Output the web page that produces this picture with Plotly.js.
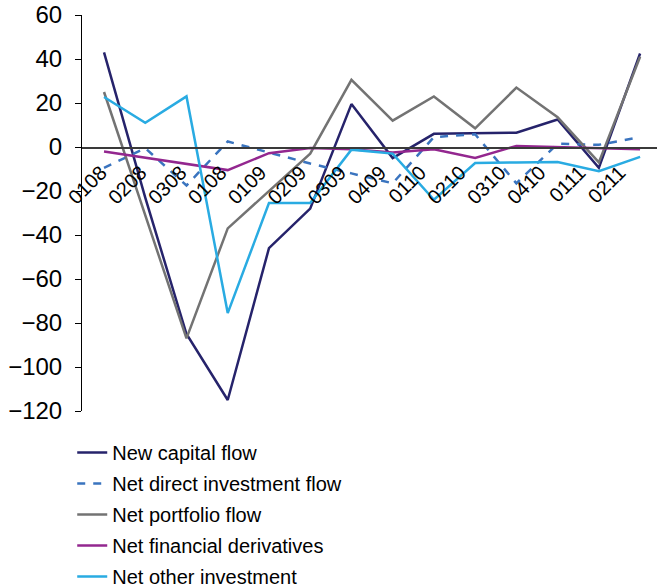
<!DOCTYPE html>
<html>
<head>
<meta charset="utf-8">
<script src="https://cdn.plot.ly/plotly-3.0.1.min.js"></script>
<style>
  html, body { margin: 0; padding: 0; background: #fff; }
  #chart { width: 657px; height: 587px; }
</style>
</head>
<body>
<div id="chart"></div>
<script>
// Quarter labels as printed in the original (note the repeated "0108")
const quarterLabels = ["0108", "0208", "0308", "0108", "0109", "0209", "0309", "0409", "0110", "0210", "0310", "0410", "0111", "0211"];
const positions = quarterLabels.map((_, i) => i);

const newCapitalFlow       = [43, -23, -85, -115, -46, -28, 19.5, -5, 6, 6.3, 6.5, 12.5, -9.5, 42.5];
const netDirectInvestment  = [-9.5, -0.5, -17.5, 2.5, -2.5, -7.5, -12, -16.5, 4.5, 5.8, -16.5, 1.5, 1, 4.5];
const netPortfolioFlow     = [25, -31, -87, -37, -20, -3, 30.5, 12, 23, 8.5, 27, 13.5, -7, 41];
const netFinancialDerivs   = [-2, -4.8, -7.5, -10.5, -2.8, -0.5, -1, -2.5, -1, -5, 0.5, 0, -0.5, -1];
const netOtherInvestment   = [22.7, 11, 23, -75.5, -25.5, -25.5, -1.2, -3, -24, -7.3, -7, -6.8, -11, -4.5];

const yTicks = [-120, -100, -80, -60, -40, -20, 0, 20, 40, 60];

const seriesNames = ["New capital flow", "Net direct investment flow", "Net portfolio flow", "Net financial derivatives", "Net other investment"];
const seriesData = [newCapitalFlow, netDirectInvestment, netPortfolioFlow, netFinancialDerivs, netOtherInvestment];
const seriesColors = ["#26236b", "#3a74bf", "#737373", "#93278f", "#29abe2"];
const seriesDash = ["solid", "8px,8px", "solid", "solid", "solid"];

const traces = seriesNames.map((name, k) => ({
  type: "scatter", mode: "lines", name: name, legendgroup: "g" + k,
  x: positions, y: seriesData[k],
  line: { color: seriesColors[k], width: 2.5, dash: seriesDash[k] },
  hoverinfo: "skip"
}));

// empty carrier trace so that the label axis (x2) is drawn
traces.unshift({
  type: "scatter", mode: "lines", xaxis: "x2", yaxis: "y",
  x: positions, y: positions.map(() => null),
  showlegend: false, hoverinfo: "skip", line: { width: 0 }
});

const font = '"Liberation Sans", Arial, Helvetica, sans-serif';

const layout = {
  width: 657, height: 587,
  margin: { l: 82, r: 0, t: 15, b: 176, pad: 0, autoexpand: false },
  paper_bgcolor: "#ffffff", plot_bgcolor: "rgba(0,0,0,0)",
  font: { family: font, color: "#000000" },
  showlegend: true,
  // data axis: crosses the value axis at zero
  xaxis: {
    range: [-0.534, 13.41], anchor: "free", position: 120 / 180,
    showline: true, linecolor: "#3a3a3a", linewidth: 1.5, ticks: "",
    showticklabels: false,
    showgrid: false, zeroline: false, fixedrange: true, automargin: false
  },
  // label axis: the printed quarter labels sit on a slightly tighter spacing
  xaxis2: {
    overlaying: "x", side: "bottom", range: [-0.476, 13.935], anchor: "free", position: 120 / 180,
    showline: false, ticks: "",
    tickmode: "array", tickvals: positions, ticktext: quarterLabels, tickangle: -45,
    ticklabelstandoff: 9,
    tickfont: { size: 20, family: font, color: "#000" },
    showgrid: false, zeroline: false, fixedrange: true, automargin: false
  },
  yaxis: {
    range: [-120, 60], tickmode: "array", tickvals: yTicks,
    ticktext: yTicks.map(v => v < 0 ? "\u2212" + Math.abs(v) : String(v)),
    showline: true, linecolor: "#000", linewidth: 1,
    ticks: "outside", ticklen: 6, tickwidth: 1, tickcolor: "#000",
    ticklabelstandoff: 8,
    tickfont: { size: 24, family: font, color: "#000" },
    showgrid: false, zeroline: false, fixedrange: true, automargin: false
  },
  legend: {
    orientation: "v", x: -0.017, xanchor: "left", y: -0.0556, yanchor: "top",
    font: { size: 20, family: font, color: "#000" },
    tracegroupgap: 2, bgcolor: "rgba(0,0,0,0)", borderwidth: 0
  }
};

Plotly.newPlot("chart", traces, layout, { displayModeBar: false, staticPlot: true });
</script>
</body>
</html>
